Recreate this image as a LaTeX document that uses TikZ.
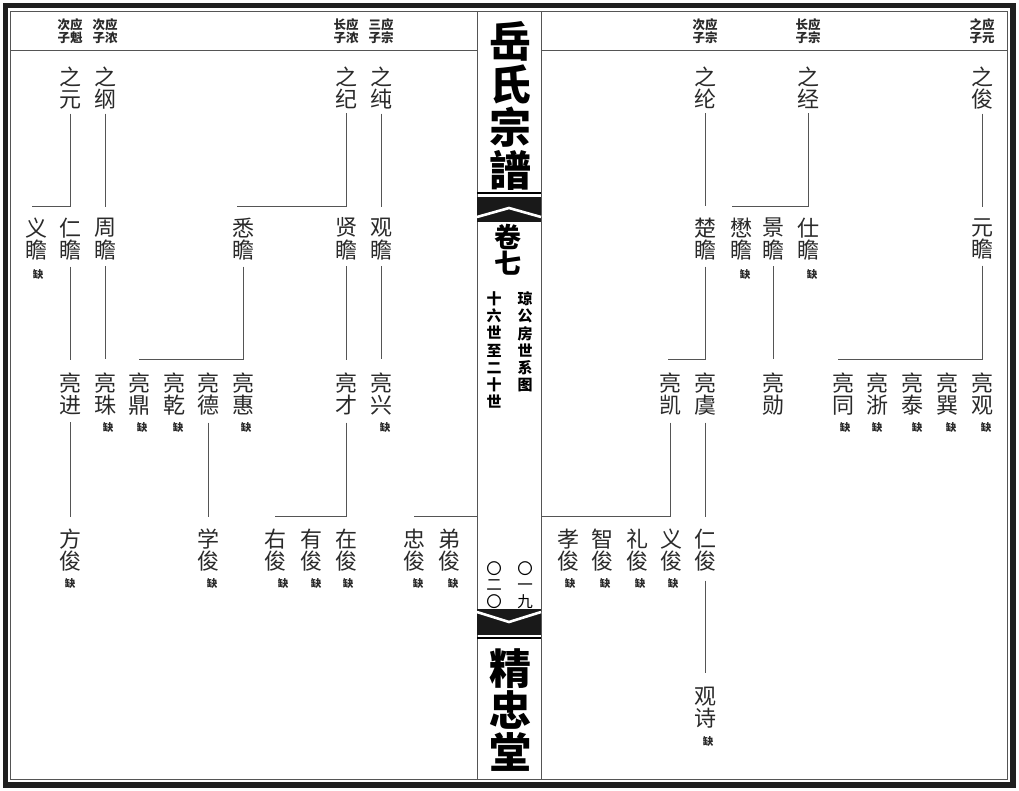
\documentclass[tikz,border=0pt]{standalone}
\usepackage{fontspec}
\newfontfamily\cjk{Noto Sans CJK SC}
\definecolor{txt}{HTML}{2A2A2A}
\definecolor{lncol}{HTML}{555555}
\tikzset{
  nm/.style={font=\cjk\fontsize{22}{22.5}\selectfont, align=center, inner sep=0pt, text=txt},
  hd/.style={font=\cjk\bfseries\fontsize{12.5}{13}\selectfont, align=center, inner sep=0pt, text=txt},
  qu/.style={font=\cjk\bfseries\fontsize{10.5}{10.5}\selectfont, inner sep=0pt, text=txt},
  ln/.style={draw=lncol, line width=0.9pt},
  ttl/.style={font=\cjk\bfseries\fontsize{42}{43}\selectfont, align=center, inner sep=0pt, text=black},
  sub/.style={font=\cjk\bfseries\fontsize{15}{17.3}\selectfont, align=center, inner sep=0pt, text=black},
  num/.style={font=\cjk\fontsize{15.5}{16.5}\selectfont, align=center, inner sep=0pt, text=black},
}
\begin{document}
\begin{tikzpicture}[x=1pt,y=-1pt]
\useasboundingbox[fill=white] (0,0) rectangle (1019,790);
% frame
\draw[line width=5.5pt, black!88] (5.5,5.5) rectangle (1013,785);
\draw[lncol, line width=0.8pt] (10,11) rectangle (1007,779);
% spine
\draw[lncol, line width=0.8pt] (477,11) -- (477,779) (541,11) -- (541,779);
\draw[lncol, line width=0.8pt] (10,50) -- (477,50) (541,50) -- (1007,50);
% bands
\draw[black, line width=1.2pt] (477,193) -- (541,193);
\fill[black!90] (477,197) rectangle (541,222);
\draw[white, line width=2.6pt] (477,217) -- (509,208) -- (541,217);
\fill[black!90] (477,609) rectangle (541,635);
\draw[white, line width=2.6pt] (477,612) -- (509,622) -- (541,612);
\draw[black, line width=1.2pt] (477,638) -- (541,638);
% spine texts
\node[ttl] (title) at (510,106) {岳\\氏\\宗\\譜};
\node[font=\cjk\bfseries\fontsize{27}{23.5}\selectfont, align=center, inner sep=0pt] (juan) at (508,250) {卷\\七};
\node[sub] (sub1) at (525,342) {琼\\公\\房\\世\\系\\图};
\node[sub] (sub2) at (494,350) {十\\六\\世\\至\\二\\十\\世};
\node[num] (pg1) at (525,585) {〇\\一\\九};
\node[num] (pg2) at (494,585) {〇\\二\\〇};
\node[ttl, font=\cjk\bfseries\fontsize{42}{42}\selectfont] (tang) at (510,710) {精\\忠\\堂};
% headers
\node[hd] (h1) at (70,31.5) {次应\\子魁};
\node[hd] (h2) at (105,31.5) {次应\\子浓};
\node[hd] (h3) at (346,31.5) {长应\\子浓};
\node[hd] (h4) at (381,31.5) {三应\\子宗};
\node[hd] (h5) at (705,31.5) {次应\\子宗};
\node[hd] (h6) at (808,31.5) {长应\\子宗};
\node[hd] (h7) at (982,31.5) {之应\\子元};
% generation 1
\node[nm] (a1) at (70,88) {之\\元};
\node[nm] (a2) at (105,88) {之\\纲};
\node[nm] (a3) at (346,88) {之\\纪};
\node[nm] (a4) at (381,88) {之\\纯};
\node[nm] (a5) at (705,88) {之\\纶};
\node[nm] (a6) at (808,88) {之\\经};
\node[nm] (a7) at (982,88) {之\\俊};
% generation 2
\node[nm] (b1) at (36,239) {义\\瞻};
\node[nm] (b2) at (70,239) {仁\\瞻};
\node[nm] (b3) at (105,239) {周\\瞻};
\node[nm] (b4) at (243,239) {悉\\瞻};
\node[nm] (b5) at (346,239) {贤\\瞻};
\node[nm] (b6) at (381,239) {观\\瞻};
\node[nm] (b7) at (705,239) {楚\\瞻};
\node[nm] (b8) at (741,239) {懋\\瞻};
\node[nm] (b9) at (773,239) {景\\瞻};
\node[nm] (b10) at (808,239) {仕\\瞻};
\node[nm] (b11) at (982,239) {元\\瞻};
\node[qu] (qb1) at (38,275) {缺};
\node[qu] (qb8) at (745,275) {缺};
\node[qu] (qb10) at (812,275) {缺};
% generation 3
\node[nm] (c1) at (70,394) {亮\\进};
\node[nm] (c2) at (105,394) {亮\\珠};
\node[nm] (c3) at (139,394) {亮\\鼎};
\node[nm] (c4) at (174,394) {亮\\乾};
\node[nm] (c5) at (208,394) {亮\\德};
\node[nm] (c6) at (243,394) {亮\\惠};
\node[nm] (c7) at (346,394) {亮\\才};
\node[nm] (c8) at (381,394) {亮\\兴};
\node[nm] (c9) at (670,394) {亮\\凯};
\node[nm] (c10) at (705,394) {亮\\虞};
\node[nm] (c11) at (773,394) {亮\\勋};
\node[nm] (c12) at (843,394) {亮\\同};
\node[nm] (c13) at (877,394) {亮\\浙};
\node[nm] (c14) at (912,394) {亮\\泰};
\node[nm] (c15) at (947,394) {亮\\巽};
\node[nm] (c16) at (982,394) {亮\\观};
\node[qu] (qc2) at (108,428) {缺};
\node[qu] (qc3) at (142,428) {缺};
\node[qu] (qc4) at (178,428) {缺};
\node[qu] (qc6) at (246,428) {缺};
\node[qu] (qc8) at (385,428) {缺};
\node[qu] (qc12) at (845,428) {缺};
\node[qu] (qc13) at (877,428) {缺};
\node[qu] (qc14) at (917,428) {缺};
\node[qu] (qc15) at (951,428) {缺};
\node[qu] (qc16) at (986,428) {缺};
% generation 4
\node[nm] (d1) at (70,550) {方\\俊};
\node[nm] (d2) at (208,550) {学\\俊};
\node[nm] (d3) at (275,550) {右\\俊};
\node[nm] (d4) at (311,550) {有\\俊};
\node[nm] (d5) at (346,550) {在\\俊};
\node[nm] (d6) at (414,550) {忠\\俊};
\node[nm] (d7) at (449,550) {弟\\俊};
\node[nm] (d8) at (568,550) {孝\\俊};
\node[nm] (d9) at (602,550) {智\\俊};
\node[nm] (d10) at (637,550) {礼\\俊};
\node[nm] (d11) at (671,550) {义\\俊};
\node[nm] (d12) at (705,550) {仁\\俊};
\node[qu] (qd1) at (70,584) {缺};
\node[qu] (qd2) at (212,584) {缺};
\node[qu] (qd3) at (283,584) {缺};
\node[qu] (qd4) at (316,584) {缺};
\node[qu] (qd5) at (348,584) {缺};
\node[qu] (qd6) at (418,584) {缺};
\node[qu] (qd7) at (453,584) {缺};
\node[qu] (qd8) at (570,584) {缺};
\node[qu] (qd9) at (605,584) {缺};
\node[qu] (qd10) at (640,584) {缺};
\node[qu] (qd11) at (673,584) {缺};
% generation 5
\node[nm] (e1) at (705,707.5) {观\\诗};
\node[qu] (qe1) at (708,742) {缺};
% bar ends
\coordinate (k1) at (32,206);
\coordinate (k2) at (237,206);
\coordinate (k3) at (732,206);
\coordinate (k4) at (139,359);
\coordinate (k5) at (668,359);
\coordinate (k6) at (838,359);
\coordinate (k7) at (275,516);
\coordinate (k8) at (541,516);
\coordinate (k9) at (477,516);
\coordinate (k10) at (414,516);
% connectors
\draw[ln] ([yshift=-4pt]a1.south) |- (k1);
\draw[ln] ([yshift=-4pt]a2.south) -- ([yshift=11pt]b3.north);
\draw[ln] ([yshift=-4pt]a3.south) |- (k2);
\draw[ln] ([yshift=-4pt]a4.south) -- ([yshift=11pt]b6.north);
\draw[ln] ([yshift=-4pt]a5.south) -- ([yshift=11pt]b7.north);
\draw[ln] ([yshift=-4pt]a6.south) |- (k3);
\draw[ln] ([yshift=-4pt]a7.south) -- ([yshift=11pt]b11.north);
\draw[ln] ([yshift=-6pt]b2.south) -- ([yshift=13pt]c1.north);
\draw[ln] ([yshift=-6pt]b3.south) -- ([yshift=13pt]c2.north);
\draw[ln] ([yshift=-6pt]b4.south) |- (k4);
\draw[ln] ([yshift=-6pt]b5.south) -- ([yshift=13pt]c7.north);
\draw[ln] ([yshift=-6pt]b6.south) -- ([yshift=13pt]c8.north);
\draw[ln] ([yshift=-6pt]b7.south) |- (k5);
\draw[ln] ([yshift=-6pt]b9.south) -- ([yshift=13pt]c11.north);
\draw[ln] ([yshift=-6pt]b11.south) |- (k6);
\draw[ln] ([yshift=-7pt]c1.south) -- ([yshift=11pt]d1.north);
\draw[ln] ([yshift=-7pt]c5.south) -- ([yshift=11pt]d2.north);
\draw[ln] ([yshift=-7pt]c7.south) |- (k7);
\draw[ln] ([yshift=-7pt]c9.south) |- (k8);
\draw[ln] (k9) -- (k10);
\draw[ln] ([yshift=-7pt]c10.south) -- ([yshift=11pt]d12.north);
\draw[ln] ([yshift=-9pt]d12.south) -- ([yshift=13pt]e1.north);
\end{tikzpicture}
\end{document}
